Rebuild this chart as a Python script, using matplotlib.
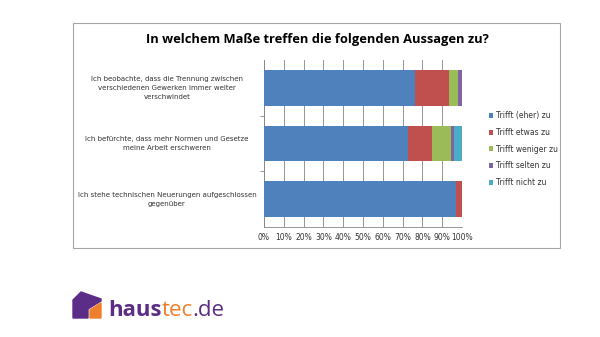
import numpy as np
import matplotlib.pyplot as plt
from matplotlib.patches import Rectangle, Polygon

# data
statements = [
    "Ich beobachte, dass die Trennung zwischen\nverschiedenen Gewerken immer weiter\nverschwindet",
    "Ich befürchte, dass mehr Normen und Gesetze\nmeine Arbeit erschweren",
    "Ich stehe technischen Neuerungen aufgeschlossen\ngegenüber",
]
series = ["Trifft (eher) zu", "Trifft etwas zu", "Trifft weniger zu", "Trifft selten zu", "Trifft nicht zu"]
eher_zu = [76.5, 72.5, 97.0]
etwas_zu = [17.0, 12.5, 3.0]
weniger_zu = [4.5, 9.5, 0.0]
selten_zu = [2.0, 1.5, 0.0]
nicht_zu = [0.0, 4.0, 0.0]
colors = ["#4F81BD", "#C0504D", "#9BBB59", "#8064A2", "#4BACC6"]
xticks = np.arange(0, 101, 10)

W, H = 600, 337
fig = plt.figure(figsize=(6, 3.37), dpi=100)

def fx(px):
    return px / W

def fy(py):
    return 1 - py / H

# chart frame
fig.patches.append(Rectangle((fx(73), fy(248)), fx(560) - fx(73), fy(23) - fy(248),
                             transform=fig.transFigure, fill=False, edgecolor="#A6A6A6", lw=0.8))

fig.text(fx(317), fy(40), "In welchem Maße treffen die folgenden Aussagen zu?",
         ha="center", va="center", fontsize=9.3, fontweight="bold", family="Open Sans")

ax = fig.add_axes([fx(264), fy(227), fx(462) - fx(264), fy(60) - fy(227)])
ypos = np.arange(len(statements))
left = np.zeros(len(statements))
for vals, name, c in zip([eher_zu, etwas_zu, weniger_zu, selten_zu, nicht_zu], series, colors):
    ax.barh(ypos, vals, left=left, height=0.64, color=c, label=name, zorder=3)
    left += np.array(vals)

ax.set_xlim(0, 100)
ax.set_ylim(len(statements) - 0.5, -0.5)
ax.set_xticks(xticks)
ax.set_xticklabels([f"{v}%" for v in xticks], fontsize=5.5, color="#333333")
ax.set_yticks(ypos)
ax.set_yticklabels([])
ax.tick_params(axis="y", length=0)
ax.tick_params(axis="x", length=0, pad=4)
ax.set_yticks([0.5, 1.5], minor=True)
ax.tick_params(axis="y", which="minor", length=3, color="#868686")
ax.grid(axis="x", color="#868686", lw=0.6, zorder=0)
for s in ["top", "right"]:
    ax.spines[s].set_visible(False)
ax.spines["left"].set_color("#868686")
ax.spines["bottom"].set_color("#868686")
ax.spines["left"].set_linewidth(0.6)
ax.spines["bottom"].set_linewidth(0.6)

# category labels, centred left of the axis
trans = ax.get_yaxis_transform()
for y, s in zip(ypos, statements):
    ax.text(fx(167 - 264) / (fx(462) - fx(264)), y, s, transform=trans, ha="center", va="center",
            fontsize=5, color="#333333", linespacing=1.55)

leg = fig.legend(loc="center left", bbox_to_anchor=(fx(482), fy(149)), frameon=False,
                 fontsize=5.5, handlelength=0.6, handleheight=0.6, handletextpad=0.3,
                 labelspacing=1.0, labelcolor="#333333")

# logo
fig.patches.append(Polygon([(fx(73), fy(318)), (fx(73), fy(300)), (fx(81), fy(292)),
                            (fx(101), fy(299)), (fx(101), fy(301)), (fx(88), fy(309)),
                            (fx(88), fy(318))],
                           closed=True, transform=fig.transFigure, color="#5B2D87"))
fig.patches.append(Polygon([(fx(90), fy(318)), (fx(90), fy(310)), (fx(101), fy(303)),
                            (fx(101), fy(318))],
                           closed=True, transform=fig.transFigure, color="#EE7F2D"))

fig.canvas.draw()
r = fig.canvas.get_renderer()
x0 = fx(108)
for part, c, w in [("haus", "#5B2D87", "bold"), ("tec", "#EE7F2D", "normal"), (".de", "#5B2D87", "normal")]:
    t = fig.text(x0, fy(316), part, color=c, fontsize=16, family="Open Sans",
                 fontweight=w, ha="left", va="baseline")
    bb = t.get_window_extent(r)
    x0 += bb.width / fig.bbox.width

fig.savefig("out.png", dpi=100)
